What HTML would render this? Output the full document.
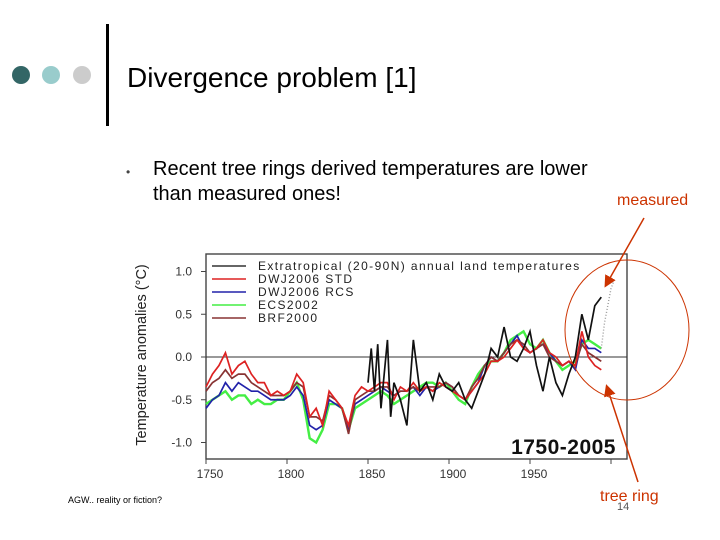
<!DOCTYPE html>
<html><head><meta charset="utf-8"><style>
body{margin:0;width:720px;height:540px;background:#fff;overflow:hidden;font-family:"Liberation Sans",sans-serif}
</style></head><body>
<svg width="720" height="540" viewBox="0 0 720 540" style="position:absolute;left:0;top:0">
<g>
<circle cx="21" cy="75" r="9" fill="#336666"/>
<circle cx="51" cy="75" r="9" fill="#99cccc"/>
<circle cx="82" cy="75" r="9" fill="#cccccc"/>
<rect x="106" y="24" width="3" height="102" fill="#000"/>
<text x="127" y="87" font-size="28" fill="#000">Divergence problem [1]</text>
</g>
<text x="126" y="176" font-size="12" fill="#444">•</text>
<text x="153" y="175" font-size="20" fill="#000">Recent tree rings derived temperatures are lower</text>
<text x="153" y="200" font-size="20" fill="#000">than measured ones!</text>
<text x="617" y="205" font-size="16" fill="#cc3300">measured</text>
<text x="600" y="501" font-size="16" fill="#cc3300">tree ring</text>
<text x="617" y="510" font-size="11" fill="#555">14</text>
<text x="68" y="503" font-size="9" fill="#000">AGW..  reality or fiction?</text>

<g id="chart">
<rect x="206" y="254" width="421" height="205" fill="#fff" stroke="#444" stroke-width="1.4"/>
<text transform="translate(146,355) rotate(-90)" text-anchor="middle" font-size="14.5" fill="#222">Temperature anomalies (°C)</text>
<text x="616" y="454" text-anchor="end" font-size="21" font-weight="bold" fill="#111" letter-spacing="0.5">1750-2005</text>
<g id="ticks"></g>
<g id="series"></g>
<g id="legend"></g>
</g>
<ellipse cx="627" cy="330" rx="62" ry="70" fill="none" stroke="#cc3300" stroke-width="1"/>
<defs><marker id="ah" markerWidth="8" markerHeight="8" refX="6" refY="4" orient="auto"><path d="M0,0 L8,4 L0,8 z" fill="#cc3300"/></marker></defs>
<line x1="644" y1="218" x2="606" y2="285" stroke="#cc3300" stroke-width="1.5" marker-end="url(#ah)"/>
<line x1="638" y1="482" x2="607" y2="387" stroke="#cc3300" stroke-width="1.5" marker-end="url(#ah)"/>
</svg>
<script>
const years=[1750,1754,1758,1762,1766,1770,1774,1778,1782,1786,1790,1794,1798,1802,1806,1810,1814,1818,1822,1826,1830,1834,1838,1842,1846,1850,1854,1858,1862,1866,1870,1874,1878,1882,1886,1890,1894,1898,1902,1906,1910,1914,1918,1922,1926,1930,1934,1938,1942,1946,1950,1954,1958,1962,1966,1970,1974,1978,1982,1986,1990,1994];
const greenVals=[-0.55,-0.5,-0.45,-0.4,-0.5,-0.45,-0.45,-0.55,-0.5,-0.55,-0.55,-0.5,-0.5,-0.4,-0.3,-0.5,-0.95,-1.0,-0.85,-0.55,-0.55,-0.6,-0.85,-0.6,-0.55,-0.5,-0.45,-0.4,-0.45,-0.55,-0.5,-0.45,-0.4,-0.35,-0.3,-0.3,-0.35,-0.3,-0.4,-0.5,-0.55,-0.35,-0.2,-0.1,-0.05,-0.05,0.05,0.2,0.25,0.3,0.15,0.1,0.2,0.05,-0.05,-0.15,-0.1,-0.05,0.15,0.2,0.15,0.1];
const blueVals=[-0.6,-0.5,-0.45,-0.3,-0.4,-0.3,-0.35,-0.4,-0.4,-0.45,-0.5,-0.5,-0.5,-0.45,-0.35,-0.45,-0.8,-0.85,-0.8,-0.5,-0.55,-0.6,-0.85,-0.55,-0.5,-0.45,-0.4,-0.35,-0.4,-0.45,-0.4,-0.4,-0.35,-0.45,-0.35,-0.4,-0.35,-0.3,-0.35,-0.45,-0.5,-0.4,-0.3,-0.1,0.0,-0.05,0.05,0.15,0.25,0.1,0.05,0.1,0.15,0.05,-0.05,-0.1,-0.05,-0.15,0.2,0.1,0.1,0.05];
const brownVals=[-0.4,-0.3,-0.25,-0.15,-0.25,-0.2,-0.2,-0.3,-0.35,-0.4,-0.45,-0.45,-0.45,-0.4,-0.3,-0.35,-0.7,-0.7,-0.75,-0.45,-0.5,-0.6,-0.9,-0.5,-0.45,-0.4,-0.4,-0.35,-0.35,-0.45,-0.4,-0.4,-0.35,-0.4,-0.35,-0.35,-0.35,-0.3,-0.35,-0.45,-0.5,-0.35,-0.25,-0.1,0.0,-0.05,0.05,0.15,0.2,0.15,0.05,0.1,0.15,0.0,-0.05,-0.1,-0.05,-0.1,0.15,0.05,0.0,-0.05];
const redVals=[-0.35,-0.2,-0.1,0.05,-0.2,-0.1,-0.05,-0.2,-0.3,-0.3,-0.45,-0.4,-0.45,-0.4,-0.2,-0.3,-0.7,-0.6,-0.8,-0.4,-0.5,-0.6,-0.8,-0.45,-0.35,-0.4,-0.35,-0.3,-0.3,-0.5,-0.35,-0.4,-0.3,-0.4,-0.35,-0.4,-0.3,-0.35,-0.4,-0.45,-0.5,-0.4,-0.3,-0.2,-0.05,-0.05,0.0,0.1,0.2,0.1,0.05,0.1,0.2,0.05,0.0,-0.1,-0.05,-0.1,0.3,0.0,-0.1,-0.15];
const measYears=[1850,1852,1854,1856,1858,1860,1862,1864,1866,1868,1870,1874,1878,1882,1886,1890,1894,1898,1902,1906,1910,1914,1918,1922,1926,1930,1934,1938,1942,1946,1950,1954,1958,1962,1966,1970,1974,1978,1982,1986,1990,1994];
const measVals=[-0.3,0.1,-0.4,0.15,-0.6,-0.2,0.2,-0.7,-0.3,-0.4,-0.5,-0.8,0.2,-0.4,-0.3,-0.5,-0.2,-0.35,-0.4,-0.3,-0.5,-0.6,-0.4,-0.2,0.1,0.0,0.35,0.0,-0.05,0.1,0.3,-0.1,-0.4,0.0,-0.3,-0.45,-0.2,0.0,0.5,0.2,0.6,0.7];
const instYears=[1994,1996,1998,2000,2002];
const instVals=[0.1,0.4,0.6,0.8,0.9];
const yTicks=[1.0,0.5,0.0,-0.5,-1.0];
const yTickLabels=["1.0","0.5","0.0","-0.5","-1.0"];
const xTicks=[1750,1800,1850,1900,1950,2000];
const xTickLabels=["1750","1800","1850","1900","1950",""];
const legendLabels=["Extratropical (20-90N) annual land temperatures","DWJ2006 STD","DWJ2006 RCS","ECS2002","BRF2000"];
const legendColors=["#333","#dd2222","#2222aa","#44ee44","#883333"];

const NS="http://www.w3.org/2000/svg";
const X=y=>206+(y-1750)*1.62;
const Y=v=>357-v*85.5;
function mk(tag,attrs,parent){const e=document.createElementNS(NS,tag);for(const k in attrs)e.setAttribute(k,attrs[k]);parent.appendChild(e);return e;}
const tg=document.getElementById('ticks');
yTicks.forEach((v,i)=>{
  const t=mk('text',{x:192,y:Y(v)+4,'text-anchor':'end','font-size':12,fill:'#333'},tg);
  
  
  t.textContent=yTickLabels[i];
  const l=mk('line',{x1:201,x2:206,y1:Y(v),y2:Y(v),stroke:'#444'},tg);
  
  
});
xTicks.forEach((v,i)=>{
  const l=mk('line',{x1:X(v),x2:X(v),y1:459,y2:464,stroke:'#444'},tg);
  
  
  const t=mk('text',{x:X(v)+4,y:478,'text-anchor':'middle','font-size':12,fill:'#333'},tg);
  
  
  t.textContent=xTickLabels[i];
});
const zl=mk('line',{x1:206,x2:627,y1:Y(0),y2:Y(0),stroke:'#333','stroke-width':1},tg);


const sg=document.getElementById('series');
function line(xs,vs,color,name,w,dash){
  const p=mk('polyline',{points:xs.map((y,i)=>X(y)+','+Y(vs[i])).join(' '),fill:'none',stroke:color,'stroke-width':w||1.6},sg);
  if(dash)p.setAttribute('stroke-dasharray',dash);
  
  
}
line(years,greenVals,'#44ee44','series-ecs2002',2.4);
line(years,blueVals,'#2222aa','series-dwj2006-rcs',1.7);
line(years,brownVals,'#883333','series-brf2000',1.7);
line(years,redVals,'#dd2222','series-dwj2006-std',1.7);
line(measYears,measVals,'#111','series-extratropical',1.7);
line(instYears,instVals,'#999','series-instrumental-recent',1.4,'1,2');
const lg=document.getElementById('legend');
legendLabels.forEach((s,i)=>{
  const yy=266+i*13;
  const l=mk('line',{x1:212,x2:246,y1:yy,y2:yy,stroke:legendColors[i],'stroke-width':1.6},lg);
  
  
  const t=mk('text',{x:258,y:yy+4,'font-size':12,'letter-spacing':1.4,fill:'#222'},lg);
  
  
  t.textContent=s;
});
</script>
</body></html>
